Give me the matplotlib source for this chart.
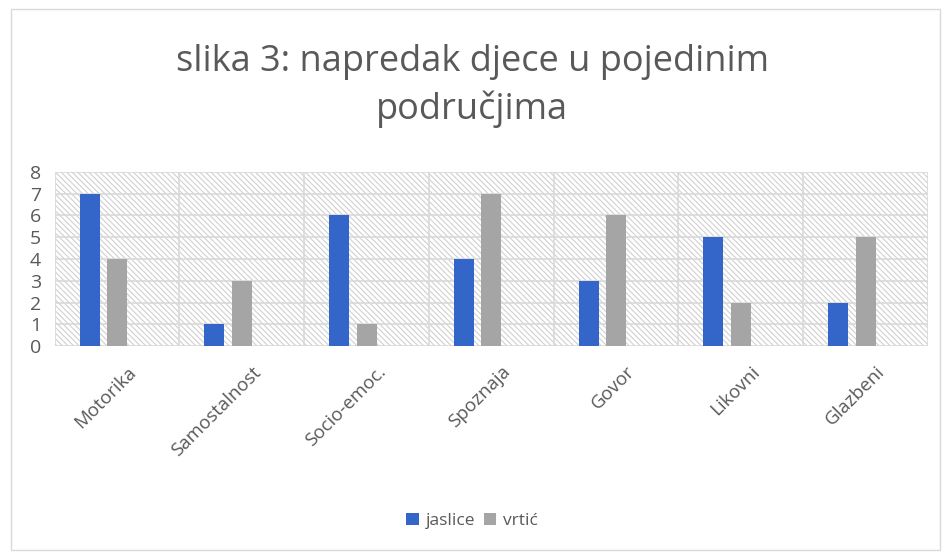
import numpy as np
import matplotlib.pyplot as plt
from matplotlib.patches import Rectangle

categories = ['Motorika', 'Samostalnost', 'Socio-emoc.', 'Spoznaja', 'Govor', 'Likovni', 'Glazbeni']
jaslice = [7, 1, 6, 4, 3, 5, 2]
vrtic = [4, 3, 1, 7, 6, 2, 5]

plt.rcParams['font.family'] = ['Open Sans', 'DejaVu Sans']
plt.rcParams['hatch.color'] = '#d0d0d0'
plt.rcParams['hatch.linewidth'] = 0.8

fig = plt.figure(figsize=(9.44, 5.54), dpi=100)
fig.patches.append(Rectangle((0.012, 0.008), 0.984, 0.975, transform=fig.transFigure,
                             fill=False, edgecolor='#d9d9d9', linewidth=1))
ax = fig.add_axes([0.058, 0.375, 0.925, 0.315])

x = np.arange(len(categories))
ax.set_xlim(-0.5, len(categories) - 0.5)
ax.set_ylim(0, 8)

# hatched plot area
ax.add_patch(Rectangle((-0.5, 0), len(categories), 8, facecolor='white',
                       edgecolor='#d0d0d0', hatch='\\' * 6, linewidth=0, zorder=0))

ax.bar(x - 0.22, jaslice, width=0.16, color='#3465c8', label='jaslice', zorder=3)
ax.bar(x, vrtic, width=0.16, color='#a5a5a5', label='vrtić', zorder=3)

for y in range(0, 9):
    ax.axhline(y, color='#d9d9d9', linewidth=1.2, zorder=1)
for b in np.arange(-0.5, len(categories), 1.0):
    ax.axvline(b, color='#d9d9d9', linewidth=1.2, zorder=1)

for s in ax.spines.values():
    s.set_visible(False)

ax.set_yticks(range(0, 9))
ax.tick_params(axis='y', length=0, labelsize=14, labelcolor='#595959', pad=10)
ax.set_xticks(x + 0.08)
ax.set_xticklabels(categories, rotation=45, ha='right', rotation_mode='anchor')
ax.tick_params(axis='x', length=0, labelsize=13.5, labelcolor='#595959', pad=12)

fig.text(0.5, 0.845, 'slika 3: napredak djece u pojedinim\npodručjima', ha='center', va='center',
         fontsize=26, color='#595959', linespacing=1.38)

fig.legend(loc='center', bbox_to_anchor=(0.5, 0.06), ncol=2, frameon=False,
           fontsize=12.5, labelcolor='#595959', handlelength=0.7, handleheight=0.7,
           handletextpad=0.4, columnspacing=0.5)

fig.savefig('out.png', dpi=100)
